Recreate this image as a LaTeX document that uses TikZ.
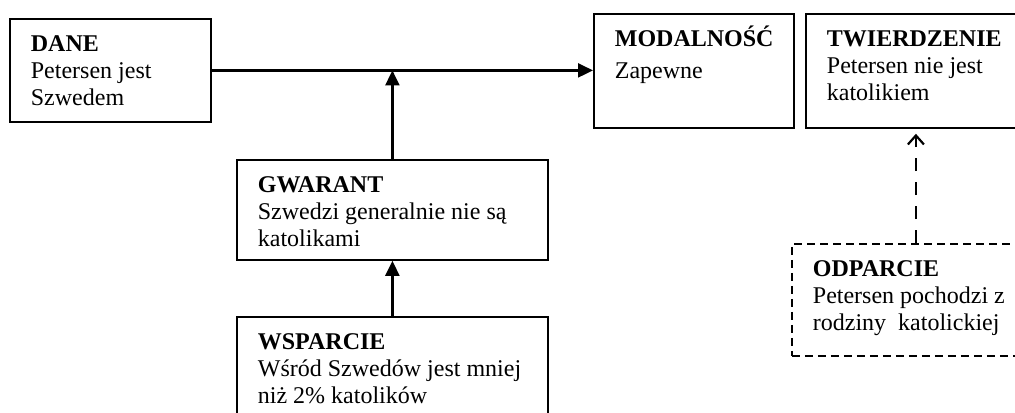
\documentclass[tikz,border=0pt]{standalone}
\usepackage{fontspec}
\setmainfont{Liberation Serif}
\usetikzlibrary{arrows.meta}

\begin{document}
\fontsize{12}{13.3}\selectfont
\begin{tikzpicture}[
      x=0.5pt, y=-0.5pt, >={Triangle[length=7.5pt,width=7pt]},
      pole/.style 2 args={draw, line width=0.9pt, anchor=north west,
        align=flush left, inner xsep=10.5pt, inner ysep=7.5pt,
        text height=9pt, text width=#1, text depth=#2},
      sprzeciw/.style={dash pattern=on 4pt off 2.5pt},
      strz/.style={->, line width=1.1pt}
      ]
      \clip (0,0) rectangle (1015,412);

      \node[pole={79.5pt}{27.5pt}] (dane) at (9,18)
        {\textbf{DANE}\\Petersen jest\\Szwedem};
      \node[pole={79pt}{33pt}] (modal) at (593,13)
        {\textbf{MODALNOŚĆ}\\[2.5pt]Zapewne};
      \node[pole={94pt}{33pt}] (twierdzenie) at (805,13)
        {\textbf{TWIERDZENIE}\\Petersen nie jest\\katolikiem};
      \node[pole={134.5pt}{26pt}] (gwarant) at (236,159)
        {\textbf{GWARANT}\\Szwedzi generalnie nie są\\katolikami};
      \node[pole={134.5pt}{31pt}] (wsparcie) at (236,316)
        {\textbf{WSPARCIE}\\Wśród Szwedów jest mniej\\niż 2\% katolików};
      \node[pole={103pt}{32pt}, sprzeciw] (odparcie) at (791,243)
        {\textbf{ODPARCIE}\\Petersen pochodzi z\\rodziny~~katolickiej};

      \draw[strz] (dane.east) -- (dane.east -| modal.west);
      \draw[strz] (gwarant.north) -- (gwarant.north |- dane.east);
      \draw[strz] (wsparcie.north) -- (gwarant.south);
      \draw[line width=1.1pt, dash pattern=on 6.5pt off 5.5pt,
        -{Straight Barb[length=4.5pt,width=8pt]}, shorten >=2.5pt]
        (odparcie.north) -- (odparcie.north |- twierdzenie.south);
    \end{tikzpicture}
\end{document}
